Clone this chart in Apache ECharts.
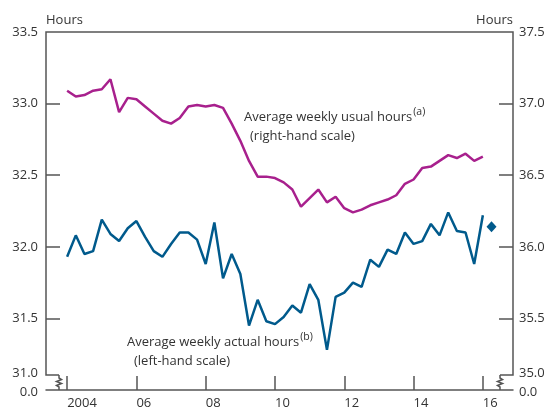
<!DOCTYPE html>
<html><head><meta charset="utf-8">
<script src="https://cdn.jsdelivr.net/npm/echarts@6/dist/echarts.min.js"></script>
<style>html,body{margin:0;padding:0;background:#fff}#c{width:548px;height:412px}</style>
</head><body><div id="c"></div>
<script>
// Quarterly data, first observation 2004 Q1, last 2016 Q1
const firstYear = 2004;
const actualHours = [31.93,32.08,31.95,31.97,32.19,32.09,32.04,32.13,32.18,32.07,
  31.97,31.93,32.02,32.10,32.10,32.05,31.88,32.17,31.78,31.95,
  31.81,31.45,31.63,31.48,31.46,31.51,31.59,31.54,31.74,31.63,
  31.28,31.65,31.68,31.75,31.72,31.91,31.86,31.98,31.95,32.10,
  32.02,32.04,32.16,32.08,32.24,32.11,32.10,31.88,32.22];
const usualHours = [37.09,37.05,37.06,37.09,37.10,37.17,36.94,37.04,37.03,36.98,
  36.93,36.88,36.86,36.90,36.98,36.99,36.98,36.99,36.97,36.86,
  36.74,36.60,36.49,36.49,36.48,36.45,36.40,36.28,36.34,36.40,
  36.31,36.35,36.27,36.24,36.26,36.29,36.31,36.33,36.36,36.44,
  36.47,36.55,36.56,36.60,36.64,36.62,36.65,36.60,36.63];
const latestActual = { quarter: 49, value: 32.14 }; // 2016 Q2 (diamond)
const yearTicks = [2004,2006,2008,2010,2012,2014,2016];
const leftTicks = [31.5,32.0,32.5,33.0,33.5];
const rightTicks = [35.5,36.0,36.5,37.0,37.5];
const breakLabelsLeft = ['31.0','0.0'];
const breakLabelsRight = ['35.0','0.0'];

const toX = i => firstYear + i / 4;
const actualData = actualHours.map((v, i) => [toX(i), v]);
const usualData = usualHours.map((v, i) => [toX(i), v]);

const FONT = '"Open Sans", "Noto Sans", sans-serif';
const TXT = '#333';
const AX = '#555';
const PURPLE = '#A8208D';
const BLUE = '#005A8C';

const chart = echarts.init(document.getElementById('c'), null, {renderer: 'canvas'});
const xMin = 2003.39, xMax = 2016.87;
const option = {
  animation: false,
  backgroundColor: '#fff',
  textStyle: {fontFamily: FONT},
  grid: {left: 46, right: 35, top: 32, bottom: 22, containLabel: false},
  xAxis: {
    type: 'value', min: xMin, max: xMax,
    splitLine: {show: false},
    axisLine: {show: true, onZero: false, lineStyle: {color: AX, width: 1.5}},
    axisTick: {show: true, inside: true, length: 14, customValues: yearTicks, lineStyle: {color: AX, width: 1.5}},
    axisLabel: {customValues: yearTicks, align: 'left', margin: 7, color: TXT, fontSize: 13, fontFamily: FONT,
      formatter: v => v === 2004 ? '2004' : String(v).slice(2)}
  },
  yAxis: [{
    type: 'value', min: 31, max: 33.5, position: 'left',
    name: 'Hours', nameLocation: 'end', nameGap: 5,
    nameTextStyle: {align: 'left', verticalAlign: 'bottom', color: TXT, fontSize: 13, fontFamily: FONT},
    splitLine: {show: false},
    axisLine: {show: false},
    axisTick: {show: true, inside: true, length: 14, customValues: leftTicks.slice(0, 4), lineStyle: {color: AX, width: 1.5}},
    axisLabel: {customValues: leftTicks, margin: 8, color: TXT, fontSize: 13, fontFamily: FONT, formatter: v => v.toFixed(1)}
  }, {
    type: 'value', min: 35, max: 37.5, position: 'right',
    name: 'Hours', nameLocation: 'end', nameGap: 5,
    nameTextStyle: {align: 'right', verticalAlign: 'bottom', color: TXT, fontSize: 13, fontFamily: FONT},
    splitLine: {show: false},
    axisLine: {show: false},
    axisTick: {show: true, inside: true, length: 14, customValues: rightTicks.slice(0, 4), lineStyle: {color: AX, width: 1.5}},
    axisLabel: {customValues: rightTicks, margin: 6, color: TXT, fontSize: 13, fontFamily: FONT, formatter: v => v.toFixed(1)}
  }],
  series: [{
    type: 'line', name: 'usual', yAxisIndex: 1, data: usualData, showSymbol: false,
    lineStyle: {color: PURPLE, width: 2.5}, itemStyle: {color: PURPLE}
  }, {
    type: 'line', name: 'actual', yAxisIndex: 0, data: actualData, showSymbol: false,
    lineStyle: {color: BLUE, width: 2.5}, itemStyle: {color: BLUE}
  }, {
    type: 'scatter', yAxisIndex: 0, data: [[toX(latestActual.quarter), latestActual.value]],
    symbol: 'diamond', symbolSize: [10, 11], itemStyle: {color: BLUE, opacity: 1}
  }]
};
chart.setOption(option);

// Frame with axis-break marks
const L = chart.convertToPixel({xAxisIndex: 0}, xMin);
const R = chart.convertToPixel({xAxisIndex: 0}, xMax);
const T = chart.convertToPixel({yAxisIndex: 0}, 33.5);
const B = chart.convertToPixel({yAxisIndex: 0}, 31.0);
const Bk = B - 15;
const lineSt = {stroke: AX, lineWidth: 1.5, fill: null};
function zig(x) {
  return [[x, Bk], [x, Bk + 3], [x + 2.5, Bk + 4.5], [x - 2.5, Bk + 6.5], [x + 2.5, Bk + 8.5], [x - 2.5, Bk + 10.5], [x, Bk + 12], [x, B]];
}
const txt = (x, y, s, align) => ({type: 'text', x, y, style: {text: s, fill: TXT, font: '13px ' + FONT, textAlign: align, textVerticalAlign: 'middle'}});
chart.setOption({
  graphic: [
    {type: 'polyline', shape: {points: [[L + 13, Bk], [L, Bk], [L, T], [R, T], [R, Bk], [R - 13, Bk]]}, style: lineSt},
    {type: 'polyline', shape: {points: zig(L + 13)}, style: lineSt},
    {type: 'polyline', shape: {points: zig(R - 13)}, style: lineSt},
    txt(L - 8, Bk - 2, breakLabelsLeft[0], 'right'),
    txt(L - 8, B + 2, breakLabelsLeft[1], 'right'),
    txt(R + 6, Bk - 2, breakLabelsRight[0], 'left'),
    txt(R + 6, B + 2, breakLabelsRight[1], 'left'),
    {type: 'text', x: 244, y: 117, style: {
      text: '{m|Average weekly usual hours}{s|(a)}', textVerticalAlign: 'middle',
      rich: {m: {fontSize: 13, fontFamily: FONT, fill: TXT}, s: {fontSize: 10.5, fontFamily: FONT, fill: TXT, padding: [0, 0, 9, 1]}}}},
    txt(250, 136, '(right-hand scale)', 'left'),
    {type: 'text', x: 127, y: 342, style: {
      text: '{m|Average weekly actual hours}{s|(b)}', textVerticalAlign: 'middle',
      rich: {m: {fontSize: 13, fontFamily: FONT, fill: TXT}, s: {fontSize: 10.5, fontFamily: FONT, fill: TXT, padding: [0, 0, 9, 1]}}}},
    txt(134, 361, '(left-hand scale)', 'left')
  ]
});
</script>
</body></html>
